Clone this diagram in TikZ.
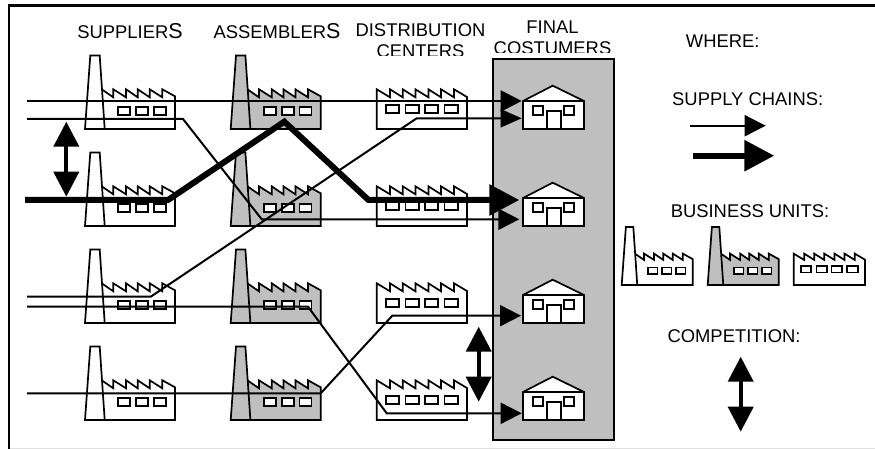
\documentclass[tikz,border=0pt]{standalone}
\usepackage{fontspec}
\setmainfont{Liberation Sans}
\usetikzlibrary{arrows.meta}

\definecolor{unitgray}{gray}{0.75}

\tikzstyle{site} = [inner sep=0pt, minimum size=0pt]
\tikzstyle{title} = [inner sep=0pt, align=center, font=\fontsize{18.4}{21}\selectfont]
\tikzstyle{outline} = [draw, line width=1.7pt]
\tikzstyle{frame} = [draw, line width=2.2pt]
\tikzstyle{market} = [draw, fill=unitgray, line width=1.7pt, minimum width=120.4pt, minimum height=380.7pt]
\tikzstyle{chain} = [draw, line width=2pt, -{Triangle[length=21pt,width=21pt]}]
\tikzstyle{bigchain} = [draw, line width=6pt, -{Triangle[length=30pt,width=30pt]}]
\tikzstyle{rivals} = [draw, line width=4pt, {Triangle[length=25pt,width=25pt]}-{Triangle[length=25pt,width=25pt]}]

\newcommand{\plantpic}[1]{
    \path [outline, fill=#1] (18,0) -- (90,0) -- (90,-32.7) -- (77.3,-39.7) -- (77.3,-31.7)
        -- (64.7,-39.7) -- (64.7,-31.7) -- (52.7,-39.7) -- (52.7,-31.7)
        -- (41,-39.7) -- (41,-31.7) -- (28.3,-39.7) -- (28.3,-31.7) -- (16.7,-39.7) -- cycle;
    \path [outline, fill=#1] (0,0) -- (5.3,-73.5) -- (14.7,-73.5) -- (19.7,0) -- cycle;
    \foreach \wx in {33.3,51,68.7}
        \path [outline, fill=white] (\wx,-22.3) rectangle ++(12,8.6);
}
\tikzset{
    supplier/.pic={\plantpic{white}},
    assembler/.pic={\plantpic{unitgray}},
    depot/.pic={
        \path [outline, fill=white] (0,0) -- (90.3,0) -- (90.3,-32) -- (77.3,-39.7) -- (77.3,-31.7)
            -- (64.3,-39.7) -- (64.3,-31.7) -- (51.7,-39.7) -- (51.7,-31.7)
            -- (38.7,-39.7) -- (38.7,-31.7) -- (26,-39.7) -- (26,-31.7)
            -- (13.3,-39.7) -- (13.3,-31.7) -- (0,-39.7) -- cycle;
        \foreach \wx in {9,28.7,48,67.7}
            \path [outline, fill=white] (\wx,-23.7) rectangle ++(13.3,8);
    },
    home/.pic={
        \path [outline, fill=white] (0,0) -- (61,0) -- (61,-28) -- (29.7,-43.3) -- (0,-28) -- cycle;
        \path [outline] (0,-28) -- (61,-28);
        \path [outline] (10.3,-23.3) rectangle (20.3,-13.7);
        \path [outline] (41.3,-23.3) rectangle (51.3,-13.7);
        \path [outline] (24.3,0) rectangle (37.7,-18);
    }
}

\begin{document}
\begin{tikzpicture}[x=1pt, y=-1pt, node distance=97pt]

    \useasboundingbox (0,0) rectangle (875,449);
    \path [draw=black!12, line width=1pt] (9,448.5) -- (875,448.5);
    \path [frame] (9,449) -- (9,5.5) -- (875,5.5);

    % column titles
    \node [title] (supTitle) at (130,31) {SUPPLIER{\fontsize{21.5}{21}\selectfont S}};
    \node [title] (asmTitle) at (277,31) {ASSEMBLER{\fontsize{21.5}{21}\selectfont S}};
    \node [title] (dcTitle) at (420.5,41) {DISTRIBUTION\\CENTERS};
    \node [title] (custTitle) at (552.5,38) {FINAL\\COSTUMERS};
    \fill [white] (360,56) rectangle (490,60);
    \fill [white] (490,53.5) rectangle (618,60);

    \node [market] (market) at (553.5,249.7) {};

    % sites of the units
    \node [site] (sup1) at (85,129) {};
    \node [site] (asm1) at (230.7,129) {};
    \node [site] (dc1) at (376.7,129) {};
    \node [site] (cust1) at (523,129) {};
    \foreach \col in {sup,asm,dc,cust} {
        \node [site, below of=\col1] (\col2) {};
        \node [site, below of=\col2] (\col3) {};
        \node [site, below of=\col3] (\col4) {};
    }
    \foreach \row in {1,...,4} {
        \pic at (sup\row) {supplier};
        \pic at (asm\row) {assembler};
        \pic at (dc\row) {depot};
        \pic at (cust\row) {home};
    }

    % legend
    \node [title] (where) at (722.7,41.5) {WHERE:};
    \node [title] (chains) at (747.7,99.5) {SUPPLY CHAINS:};
    \node [title] (units) at (750,211.5) {BUSINESS UNITS:};
    \node [title] (rivalry) at (734,336.5) {COMPETITION:};
    \node [site] (legSup) at (621.7,285) {};
    \node [site] (legAsm) at (707.7,285) {};
    \node [site] (legDc) at (793.7,285) {};
    \pic [scale=0.79] at (legSup) {supplier};
    \pic [scale=0.79] at (legAsm) {assembler};
    \pic [scale=0.79] at (legDc) {depot};

    % bends of the chains
    \coordinate (a0) at (27,101);
    \coordinate (a1) at (521.7,101);
    \coordinate (b0) at (27,119);
    \coordinate (b1) at (183,119);
    \coordinate (b2) at (261.7,219.3);
    \coordinate (b3) at (519.3,219.3);
    \coordinate (c0) at (25,200);
    \coordinate (c1) at (168,200);
    \coordinate (c2) at (284.3,121.7);
    \coordinate (c3) at (368.5,200);
    \coordinate (c4) at (519.3,200);
    \coordinate (d0) at (27,296.7);
    \coordinate (d1) at (150.7,296.7);
    \coordinate (d2) at (416.7,118.3);
    \coordinate (d3) at (521.7,118.3);
    \coordinate (e0) at (27,306.7);
    \coordinate (e1) at (308,306.7);
    \coordinate (e2) at (386.7,413.3);
    \coordinate (e3) at (521.7,413.3);
    \coordinate (f0) at (27,393.3);
    \coordinate (f1) at (320.7,393.3);
    \coordinate (f2) at (392.3,315.7);
    \coordinate (f3) at (521,315.7);

    \path [chain] (a0) -- (a1);
    \path [chain] (b0) -- (b1) -- (b2) -- (b3);
    \path [chain, -{Triangle[length=21pt,width=18pt]}] (d0) -- (d1) -- (d2) -- (d3);
    \path [chain] (e0) -- (e1) -- (e2) -- (e3);
    \path [chain] (f0) -- (f1) -- (f2) -- (f3);
    \path [bigchain] (c0) -- (c1) -- (c2) -- (c3) -- (c4);

    % competition
    \coordinate (r1a) at (66.3,121.7);
    \coordinate (r1b) at (66.3,196.7);
    \coordinate (r2a) at (478.7,326.7);
    \coordinate (r2b) at (478.7,401.7);
    \coordinate (r3a) at (740.7,356.7);
    \coordinate (r3b) at (740.7,431.7);
    \path [rivals] (r1a) -- (r1b);
    \path [rivals] (r2a) -- (r2b);
    \path [rivals] (r3a) -- (r3b);

    % legend arrows
    \coordinate (thin0) at (690,125.7);
    \coordinate (thin1) at (765.7,125.7);
    \coordinate (thick0) at (692.7,155.7);
    \coordinate (thick1) at (774.3,155.7);
    \path [chain] (thin0) -- (thin1);
    \path [bigchain] (thick0) -- (thick1);

\end{tikzpicture}
\end{document}
